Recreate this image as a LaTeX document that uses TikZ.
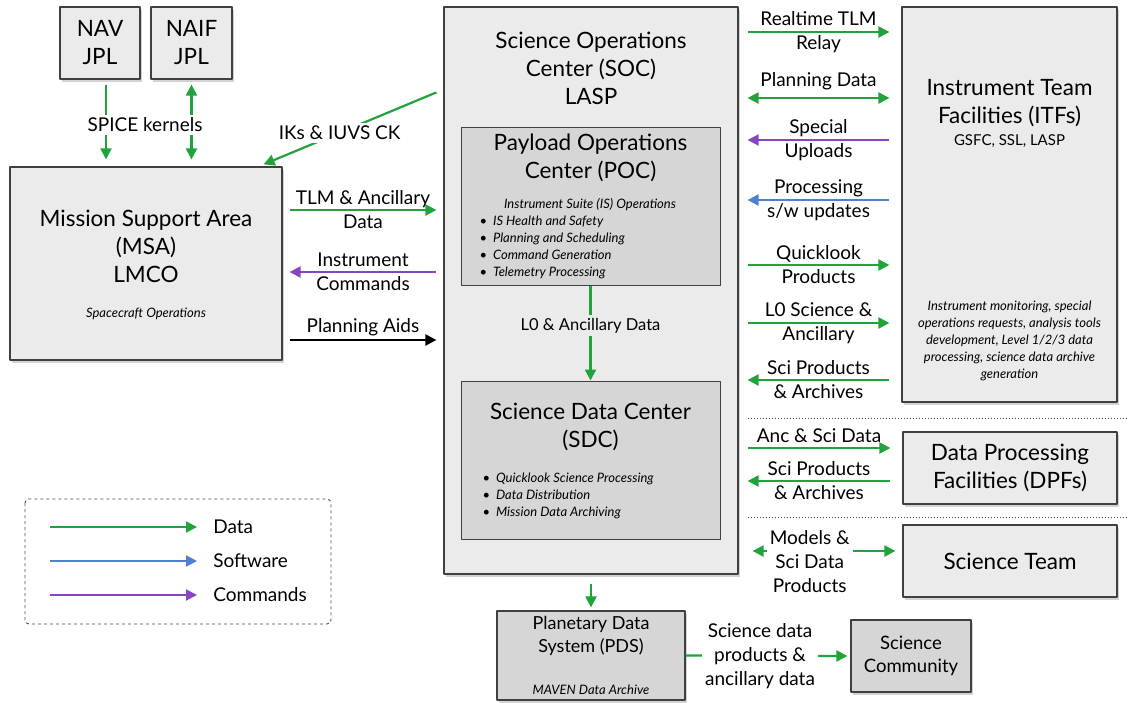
\documentclass[tikz,border=0pt]{standalone}
\usepackage{fontspec}
\setmainfont{Lato}
\usetikzlibrary{arrows.meta,calc,shadows}
\definecolor{datagreen}{RGB}{31,163,58}
\definecolor{swblue}{RGB}{79,127,208}
\definecolor{cmdpurple}{RGB}{138,68,194}
\definecolor{boxfill}{RGB}{235,235,235}
\definecolor{innerfill}{RGB}{214,214,214}
\definecolor{boxline}{RGB}{64,64,64}

\begin{document}
\begin{tikzpicture}[x=1pt, y=-1pt, line join=round,
        outerbox/.style={draw=boxline, line width=1.2pt, fill=boxfill, drop shadow={shadow xshift=2pt, shadow yshift=-3pt, opacity=0.35}},
        innerbox/.style={draw=boxline, line width=1pt, fill=innerfill},
        titletext/.style={font=\fontsize{22.5}{28}\selectfont, align=center, text=black},
        flowtext/.style={font=\fontsize{19}{24}\selectfont, align=center, inner sep=3pt, text=black},
        smallnote/.style={font=\fontsize{13}{17}\selectfont\itshape, align=center},
        bulletlist/.style={font=\fontsize{13}{17}\selectfont\itshape, align=left, anchor=west},
        flowline/.style={line width=2.2pt},
        toright/.style={-{Triangle[length=11pt,width=11pt]}},
        toleft/.style={{Triangle[length=11pt,width=11pt]}-},
        twoway/.style={{Triangle[length=11pt,width=11pt]}-{Triangle[length=11pt,width=11pt]}}]
        \useasboundingbox (0,0) rectangle (1128,702);
        % Boxes
        \node[outerbox, titletext, minimum width=80pt, minimum height=72pt] (nav) at (100,43) {NAV\\JPL};
        \node[outerbox, titletext, minimum width=81pt, minimum height=72pt] (naif) at (191.5,43) {NAIF\\JPL};
        \node[outerbox, minimum width=272pt, minimum height=193pt] (msa) at (146,263.5) {};
        \node[outerbox, minimum width=294pt, minimum height=567pt] (soc) at (591,290.5) {};
        \node[innerbox, minimum width=259pt, minimum height=158pt] (poc) at (590.5,206) {};
        \node[innerbox, minimum width=259pt, minimum height=158pt] (sdc) at (590.5,460) {};
        \node[outerbox, minimum width=215pt, minimum height=395pt] (itf) at (1009.5,204.5) {};
        \node[outerbox, titletext, minimum width=214pt, minimum height=72pt] (dpf) at (1010,468) {Data Processing\\Facilities (DPFs)};
        \node[outerbox, titletext, minimum width=214pt, minimum height=72pt] (team) at (1010,561) {Science Team};
        \node[outerbox, fill=innerfill, minimum width=188pt, minimum height=89pt] (pds) at (591,655.5) {};
        \node[outerbox, fill=innerfill, align=center, font=\fontsize{18.5}{23}\selectfont, minimum width=120pt, minimum height=72pt] (comm) at (911,656) {Science\\Community};
        % Box texts
        \node[titletext] (msatitle) at (146,246) {Mission Support Area\\(MSA)\\LMCO};
        \node[smallnote] (msanote) at (146,314) {Spacecraft Operations};
        \node[titletext] (soctitle) at (591,68) {Science Operations\\Center (SOC)\\LASP};
        \node[titletext] (poctitle) at (590.5,158) {Payload Operations\\Center (POC)};
        \node[smallnote] (pocnote) at (590,205) {Instrument Suite (IS) Operations};
        \node[bulletlist] (poclist) at (476,247.5) {\upshape\textbullet\hspace{6pt}\itshape IS Health and Safety\\
          \upshape\textbullet\hspace{6pt}\itshape Planning and Scheduling\\
          \upshape\textbullet\hspace{6pt}\itshape Command Generation\\
          \upshape\textbullet\hspace{6pt}\itshape Telemetry Processing};
        \node[titletext] (sdctitle) at (590.5,426.5) {Science Data Center\\(SDC)};
        \node[bulletlist] (sdclist) at (479,496) {\upshape\textbullet\hspace{6pt}\itshape Quicklook Science Processing\\
          \upshape\textbullet\hspace{6pt}\itshape Data Distribution\\
          \upshape\textbullet\hspace{6pt}\itshape Mission Data Archiving};
        \node[titletext] (itftitle) at (1009.5,103) {Instrument Team\\Facilities (ITFs)};
        \node[font=\fontsize{15}{18}\selectfont] (itfsites) at (1009.5,141) {GSFC, SSL, LASP};
        \node[smallnote] (itfnote) at (1009.5,341) {Instrument monitoring, special\\operations requests, analysis tools\\development, Level 1/2/3 data\\processing, science data archive\\generation};
        \node[align=center, font=\fontsize{18}{23}\selectfont] (pdstitle) at (591,635.5) {Planetary Data\\System (PDS)};
        \node[font=\fontsize{13}{15}\selectfont\itshape] (pdsnote) at (591,690) {MAVEN Data Archive};
        % Anchor points for the side arrows
        \coordinate (msaR) at ($(msa.east)+(7,0)$);
        \coordinate (socL) at ($(soc.west)+(-7,0)$);
        \coordinate (socR) at ($(soc.east)+(9,0)$);
        \coordinate (itfL) at ($(itf.west)+(-12,0)$);
        \coordinate (dpfL) at ($(dpf.west)+(-12,0)$);
        \coordinate (teamL) at ($(team.west)+(-7,0)$);
        % JPL links
        \draw[flowline, datagreen, toright] ($(nav.south)+(6,5)$) -- ($(nav.south |- msa.north)+(6,-7)$);
        \draw[flowline, datagreen, twoway] ($(naif.south)+(0,5)$) -- ($(naif.south |- msa.north)+(0,-7)$);
        \node[flowtext, fill=white] (spice) at (145,125) {SPICE kernels};
        \draw[flowline, datagreen, toright] ($(soc.north west)+(-7,86)$) -- ($(msa.north east)+(-19,-2)$)
          node[pos=0.56, flowtext, fill=white] {IKs \& IUVS CK};
        % MSA <-> SOC
        \draw[flowline, datagreen, toright] (msaR |- 0,210) -- (socL |- 0,210) node[midway, flowtext] {TLM \& Ancillary\\Data};
        \draw[flowline, cmdpurple, toleft] (msaR |- 0,272) -- (socL |- 0,272) node[midway, flowtext] {Instrument\\Commands};
        \draw[flowline, black, toright] (msaR |- 0,340) -- (socL |- 0,340) node[midway, above, flowtext] {Planning Aids};
        % SOC <-> ITF
        \foreach \y/\arrowkind/\col/\txt in {32/toright/datagreen/{Realtime TLM\\Relay},
                                            140/toleft/cmdpurple/{Special\\Uploads},
                                            200/toleft/swblue/{Processing\\s/w updates},
                                            265/toright/datagreen/{Quicklook\\Products},
                                            323/toright/datagreen/{L0 Science \&\\Ancillary},
                                            380/toleft/datagreen/{Sci Products\\\& Archives}} {
          \draw[flowline, \col, \arrowkind] (socR |- 0,\y) -- (itfL |- 0,\y) node[midway, flowtext] {\txt};
        }
        \draw[flowline, datagreen, twoway] (socR |- 0,98) -- (itfL |- 0,98) node[midway, above=4pt, flowtext] {Planning Data};
        % SOC <-> DPF
        \draw[dotted, line width=1pt, black!70] (socR |- 0,418) -- (1128,418);
        \draw[flowline, datagreen, toright] (socR |- 0,448) -- (dpfL |- 0,448) node[midway, above=1pt, flowtext] {Anc \& Sci Data};
        \draw[flowline, datagreen, toleft] (socR |- 0,481) -- (dpfL |- 0,481) node[midway, flowtext] {Sci Products\\\& Archives};
        % SOC <-> Science Team
        \draw[dotted, line width=1pt, black!70] (socR |- 0,517) -- (1128,517);
        \draw[flowline, datagreen, twoway] ($(socR |- 0,551)+(5,0)$) -- (teamL |- 0,551)
          node[pos=0.4, yshift=-11pt, flowtext, fill=white] {Models \&\\Sci Data\\Products};
        % Inside and below the SOC
        \draw[flowline, datagreen, toright] (poc.south) -- (sdc.north)
          node[pos=0.42, fill=boxfill, text=black, font=\fontsize{16.5}{18}\selectfont] {L0 \& Ancillary Data};
        \draw[flowline, datagreen, toright] ($(soc.south)+(0,9)$) -- ($(pds.north)+(0,-3)$);
        \draw[flowline, datagreen, toright] (pds.east) -- ($(comm.west)+(-3,0)$)
          node[pos=0.46, flowtext, fill=white] {Science data\\products \&\\ancillary data};
        %% Legend
        \draw[dashed, rounded corners=4pt, line width=0.9pt, black!70] (25,499) rectangle (331,624);
        \foreach \y/\col/\txt in {527/datagreen/Data, 561/swblue/Software, 595/cmdpurple/Commands} {
          \draw[line width=2pt, \col, toright] (50,\y) -- (197,\y) node[right=12pt, font=\fontsize{19}{20}\selectfont, text=black] {\txt};
        }
\end{tikzpicture}
\end{document}
